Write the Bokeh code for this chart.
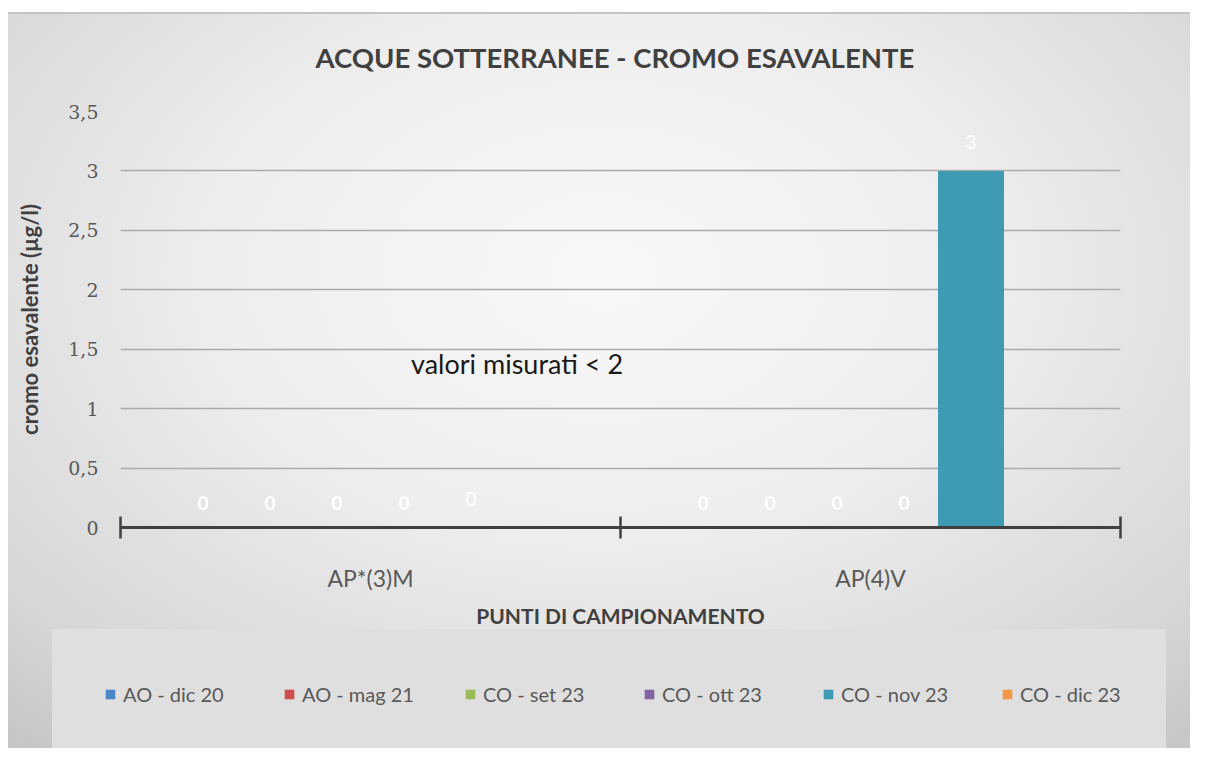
import numpy as np
from bokeh.plotting import figure
from bokeh.layouts import column
from bokeh.models import Range1d, FixedTicker, ColumnDataSource, Legend, LegendItem, Label
from bokeh.core.properties import value
from bokeh.embed import file_html
from bokeh.resources import INLINE

# ---------------- data ----------------
categories = ["AP*(3)M", "AP(4)V"]
series_names = ["AO - dic 20", "AO - mag 21", "CO - set 23", "CO - ott 23", "CO - nov 23", "CO - dic 23"]
series_colors = ["#4a86c8", "#cf4f4f", "#9bbb59", "#8064a2", "#3f9ab4", "#f79646"]
ao_dic20 = [0, 0]
ao_mag21 = [0, 0]
co_set23 = [0, 0]
co_ott23 = [0, 0]
co_nov23 = [0, 3]
co_dic23 = [None, None]
series_values = [ao_dic20, ao_mag21, co_set23, co_ott23, co_nov23, co_dic23]
series_label_style = ["bold", "bold", "bold", "bold", "normal", "bold"]
y_ticks = [0, 0.5, 1, 1.5, 2, 2.5, 3, 3.5]
y_tick_labels = ["0", "0,5", "1", "1,5", "2", "2,5", "3", "3,5"]
title_text = "ACQUE SOTTERRANEE - CROMO ESAVALENTE"
y_title = "cromo esavalente (µg/l)"
x_title = "PUNTI DI CAMPIONAMENTO"
note_text = "valori misurati  < 2"
note_pos = (0.8, 1.38)

FONT = "Lato"
W = 1190
H_MAIN, H_LEG = 630, 118

p = figure(width=W, height=H_MAIN, output_backend="svg", toolbar_location=None,
           x_range=Range1d(0, len(categories)), y_range=Range1d(0, y_ticks[-1]),
           min_border_left=120, min_border_right=70, min_border_top=111, min_border_bottom=102,
           background_fill_color=None, border_fill_color=None, outline_line_color=None)

n = len(series_names)
slot = 0.134
bar_w = 0.132
for i, (name, vals, col, sty) in enumerate(zip(series_names, series_values, series_colors, series_label_style)):
    xs = [j + 0.5 + (i - (n - 1) / 2) * slot for j in range(len(categories))]
    tops = [np.nan if v is None else v for v in vals]
    labels = ["" if v is None else ("%g" % v).replace(".", ",") for v in vals]
    src = ColumnDataSource(dict(x=xs, top=tops, label=labels))
    p.vbar(x="x", top="top", bottom=0, width=bar_w, source=src,
           fill_color=col, line_color=None)
    p.text(x="x", y="top", text="label", source=src, text_font=value(FONT),
           text_font_size="19px", text_font_style=sty, text_color="white",
           text_align="center", text_baseline="middle",
           y_offset=-25 if sty == "bold" else -29)

# x axis
xa = p.xaxis[0]
xa.ticker = FixedTicker(ticks=[j + 0.5 for j in range(len(categories))],
                        minor_ticks=list(range(len(categories) + 1)))
xa.major_label_overrides = {j + 0.5: c for j, c in enumerate(categories)}
xa.major_tick_line_color = None
xa.major_tick_in = 0
xa.major_tick_out = 0
xa.minor_tick_in = 11
xa.minor_tick_out = 11
xa.minor_tick_line_color = "#404040"
xa.minor_tick_line_width = 2.5
xa.axis_line_color = "#404040"
xa.axis_line_width = 3
xa.major_label_standoff = 25
xa.major_label_text_font = FONT
xa.major_label_text_font_size = "23px"
xa.major_label_text_color = "#595959"
xa.axis_label = x_title
xa.axis_label_text_font = FONT
xa.axis_label_text_font_size = "21px"
xa.axis_label_text_font_style = "bold"
xa.axis_label_text_color = "#404040"
xa.axis_label_standoff = 8

# y axis
ya = p.yaxis[0]
ya.ticker = FixedTicker(ticks=y_ticks)
ya.major_label_overrides = {t: l for t, l in zip(y_ticks, y_tick_labels)}
ya.axis_line_color = None
ya.major_tick_line_color = None
ya.minor_tick_line_color = None
ya.major_tick_in = 0
ya.major_tick_out = 0
ya.major_label_standoff = 22
ya.major_label_text_font = "DejaVu Serif"
ya.major_label_text_font_size = "19px"
ya.major_label_text_color = "#595959"
ya.axis_label = y_title
ya.axis_label_text_font = FONT
ya.axis_label_text_font_size = "22px"
ya.axis_label_text_font_style = "bold"
ya.axis_label_text_color = "#404040"
ya.axis_label_standoff = 22

p.xgrid.visible = False
p.ygrid.grid_line_color = "#ababab"
p.ygrid.grid_line_width = 1.5

# title
p.title.text = title_text
p.title.align = "left"
p.title.offset = 195
p.title.text_font = FONT
p.title.text_font_size = "27.5px"
p.title.text_font_style = "bold"
p.title.text_color = "#404040"
p.title.standoff = 75

# note
p.add_layout(Label(x=note_pos[0], y=note_pos[1], text=note_text, text_align="center",
                   text_baseline="middle", text_font=FONT, text_font_size="27px",
                   text_color="#1a1a1a"))

# legend strip (separate canvas so nothing is clipped)
q = figure(width=W, height=H_LEG, output_backend="svg", toolbar_location=None,
           x_axis_type=None, y_axis_type=None, min_border=0,
           min_border_left=0, min_border_right=0, min_border_top=0, min_border_bottom=0,
           x_range=Range1d(0, 1), y_range=Range1d(0, 1),
           background_fill_color=None, border_fill_color=None, outline_line_color=None)
q.frame_align = False
q.grid.visible = False
items = []
for name, col in zip(series_names, series_colors):
    r = q.vbar(x=[np.nan], top=[np.nan], width=0.1, fill_color=col, line_color=None)
    items.append(LegendItem(label=name, renderers=[r]))

legend = Legend(items=items, orientation="horizontal", location=(104, 40),
                glyph_width=12, glyph_height=12, label_standoff=7, label_width=110,
                label_height=28, spacing=50, padding=0, margin=0,
                background_fill_alpha=0.0, border_line_color=None,
                label_text_font=FONT, label_text_font_size="20px",
                label_text_color="#595959")
q.add_layout(legend, "center")

layout = column(p, q, spacing=0)
layout.styles = {
    "background-color": "white",
    "background-image": ("linear-gradient(#c4c4c4, #c4c4c4), "
                         "linear-gradient(#dfdfdf, #dfdfdf), "
                         "radial-gradient(ellipse 80% 85% at 50% 35%, #f8f8f8 0%, #eeeeee 40%, "
                         "#d6d6d6 80%, #c2c2c2 100%)"),
    "background-size": "100% 2px, 1114px 128px, 100% 100%",
    "background-position": "8px 12px, 52px 629px, 8px 12px",
    "background-repeat": "no-repeat, no-repeat, no-repeat",
}

open("out.html", "w").write(file_html(layout, INLINE))
